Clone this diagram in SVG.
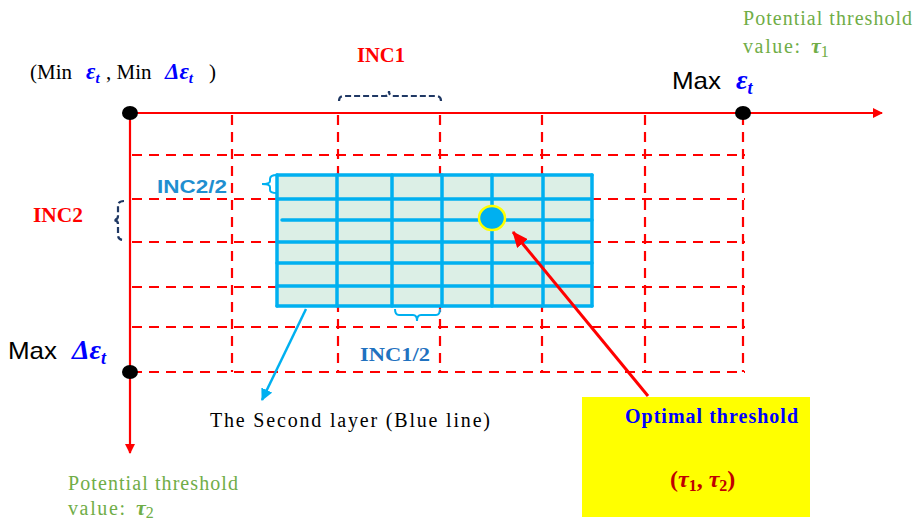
<svg xmlns="http://www.w3.org/2000/svg" width="915" height="520" viewBox="0 0 915 520">
<defs>
<style>
.ax{stroke:#ff0000;stroke-width:2.2;fill:none}
.dash{stroke:#ff0000;stroke-width:2.2;stroke-dasharray:10 7;fill:none}
.bl{stroke:#00b0f0;stroke-width:3.5;fill:none;stroke-linecap:round}
.brace{stroke:#1f3864;stroke-width:2.2;fill:none;stroke-dasharray:6 3}
.bbrace{stroke:#00b0f0;stroke-width:2;fill:none}
.serif{font-family:"Liberation Serif","Times New Roman",serif}
.sans{font-family:"Liberation Sans",Arial,sans-serif}
.green{fill:#70ad47;font-size:20px}
.eps{fill:#0000ff;font-weight:bold;font-style:italic;font-family:"Liberation Serif","Times New Roman",serif}
</style>
<marker id="ar" markerWidth="10" markerHeight="10" refX="9" refY="5" orient="auto" markerUnits="userSpaceOnUse"><path d="M0,0 L10,5 L0,10 z" fill="#ff0000"/></marker>
<marker id="ab" markerWidth="12" markerHeight="12" refX="11" refY="6" orient="auto" markerUnits="userSpaceOnUse"><path d="M0,0 L12,6 L0,12 z" fill="#00b0f0"/></marker>
<marker id="ar2" markerWidth="16" markerHeight="14" refX="15" refY="7" orient="auto" markerUnits="userSpaceOnUse"><path d="M0,0 L16,7 L0,14 z" fill="#ff0000"/></marker>
</defs>

<g id="grid1">
<line class="dash" x1="232" y1="115" x2="232" y2="372"/>
<line class="dash" x1="338" y1="115" x2="338" y2="372"/>
<line class="dash" x1="440" y1="115" x2="440" y2="372"/>
<line class="dash" x1="542" y1="115" x2="542" y2="372"/>
<line class="dash" x1="645" y1="115" x2="645" y2="372"/>
<line class="dash" x1="743" y1="115" x2="743" y2="372"/>
<line class="dash" x1="132" y1="155" x2="745" y2="155"/>
<line class="dash" x1="132" y1="199" x2="745" y2="199"/>
<line class="dash" x1="132" y1="242" x2="745" y2="242"/>
<line class="dash" x1="132" y1="287" x2="745" y2="287"/>
<line class="dash" x1="132" y1="327" x2="745" y2="327"/>
<line class="dash" x1="132" y1="372" x2="745" y2="372"/>
</g>

<g id="grid2">
<rect x="277" y="175" width="315" height="131" fill="#dcefe6" stroke="none"/>
<line class="bl" x1="277" y1="175" x2="592" y2="175"/>
<line class="bl" x1="277" y1="199" x2="592" y2="199"/>
<line class="bl" x1="282" y1="220" x2="592" y2="220"/>
<line class="bl" x1="277" y1="242" x2="592" y2="242"/>
<line class="bl" x1="277" y1="263" x2="592" y2="263"/>
<line class="bl" x1="277" y1="286" x2="592" y2="286"/>
<line class="bl" x1="277" y1="306" x2="592" y2="306"/>
<line class="bl" x1="277" y1="175" x2="277" y2="306"/>
<line class="bl" x1="337" y1="175" x2="337" y2="306"/>
<line class="bl" x1="392" y1="175" x2="392" y2="306"/>
<line class="bl" x1="442" y1="175" x2="442" y2="306"/>
<line class="bl" x1="492" y1="175" x2="492" y2="306"/>
<line class="bl" x1="543" y1="175" x2="543" y2="306"/>
<line class="bl" x1="592" y1="175" x2="592" y2="306"/>
</g>

<g id="axes">
<line class="ax" x1="130" y1="113" x2="882" y2="113" marker-end="url(#ar)"/>
<line class="ax" x1="130" y1="113" x2="130" y2="453" marker-end="url(#ar)"/>
<ellipse cx="130" cy="113" rx="8" ry="7" fill="#000"/>
<ellipse cx="743" cy="113" rx="8" ry="7" fill="#000"/>
<ellipse cx="130" cy="372" rx="8" ry="7" fill="#000"/>
</g>

<g id="connectors">
<line x1="648" y1="396" x2="513" y2="232" stroke="#ff0000" stroke-width="3" marker-end="url(#ar2)"/>
<line x1="306" y1="309" x2="262" y2="400" stroke="#00b0f0" stroke-width="2.5" marker-end="url(#ab)"/>
</g>

<g id="optimal-point">
<ellipse cx="492" cy="218" rx="13" ry="12" fill="#00b0f0" stroke="#ffff00" stroke-width="2.5"/>
</g>

<g id="braces">
<path class="brace" d="M339,101 Q339,96 344,96 L385,96 Q389,96 389,91 Q389,96 393,96 L436,96 Q441,96 441,101"/>
<path class="brace" d="M124,201 Q118,201 118,206 L118,216 Q118,220 113,220 Q118,220 118,224 L118,235 Q118,240 124,240"/>
<path class="bbrace" d="M277,175 Q270,175 270,179 L270,181 Q270,184 262,184 Q270,184 270,187 L270,190 Q270,193 277,193"/>
<path class="bbrace" d="M395,309 Q395,315 399,315 L413,315 Q417,315 417,321 Q417,315 421,315 L436,315 Q440,315 440,309"/>
</g>

<g id="labels">
<text class="serif" y="79" font-size="21" fill="#000"><tspan x="30">(Min</tspan><tspan class="eps" x="86" font-size="23">ε</tspan><tspan class="eps" font-size="15" dy="4">t</tspan><tspan x="106" dy="-4">, Min</tspan><tspan class="eps" x="165" font-size="23">Δε</tspan><tspan class="eps" font-size="15" dy="4">t</tspan><tspan x="209" dy="-4">)</tspan></text>
<text class="serif" x="357" y="62" font-size="20" font-weight="bold" fill="#ff0000" textLength="48" lengthAdjust="spacingAndGlyphs">INC1</text>
<text class="serif" x="33" y="222" font-size="20" font-weight="bold" fill="#ff0000" textLength="50" lengthAdjust="spacingAndGlyphs">INC2</text>
<text class="sans" x="157" y="193" font-size="19" font-weight="bold" fill="#1f8fd0" textLength="70" lengthAdjust="spacingAndGlyphs">INC2/2</text>
<text class="serif" x="360" y="361" font-size="19" font-weight="bold" fill="#1f72c0" textLength="70" lengthAdjust="spacingAndGlyphs">INC1/2</text>
<text class="sans" y="89" font-size="24" fill="#000"><tspan x="672" textLength="49" lengthAdjust="spacingAndGlyphs">Max</tspan><tspan class="eps" x="736" font-size="28">ε</tspan><tspan class="eps" font-size="18" dy="5">t</tspan></text>
<text class="sans" y="359" font-size="24" fill="#000"><tspan x="8" textLength="49" lengthAdjust="spacingAndGlyphs">Max</tspan><tspan class="eps" x="72" font-size="28">Δε</tspan><tspan class="eps" font-size="18" dy="5">t</tspan></text>
<text class="serif green" x="743" y="25" textLength="169" lengthAdjust="spacing">Potential threshold</text>
<text class="serif green" y="53"><tspan x="743" textLength="57" lengthAdjust="spacing">value:</tspan><tspan x="811" font-style="italic" font-weight="bold" font-size="22">τ</tspan><tspan font-size="16" dy="4">1</tspan></text>
<text class="serif green" x="68" y="490" textLength="170" lengthAdjust="spacing">Potential threshold</text>
<text class="serif green" y="515"><tspan x="68" textLength="57" lengthAdjust="spacing">value:</tspan><tspan x="136" font-style="italic" font-weight="bold" font-size="22">τ</tspan><tspan font-size="16" dy="3">2</tspan></text>
<text class="serif" x="210" y="427" font-size="20" fill="#000" textLength="280" lengthAdjust="spacing">The Second layer (Blue line)</text>
</g>

<g id="optimal-box">
<rect x="582" y="397" width="228" height="120" fill="#ffff00"/>
<text class="serif" x="625" y="423" font-size="20" font-weight="bold" fill="#0000ff" textLength="173" lengthAdjust="spacing">Optimal threshold</text>
<text class="serif" x="670" y="487" font-size="24" font-weight="bold" fill="#c00000">(<tspan font-style="italic">τ</tspan><tspan font-size="16" dy="4">1</tspan><tspan dy="-4">, </tspan><tspan font-style="italic">τ</tspan><tspan font-size="16" dy="4">2</tspan><tspan dy="-4">)</tspan></text>
</g>
</svg>
